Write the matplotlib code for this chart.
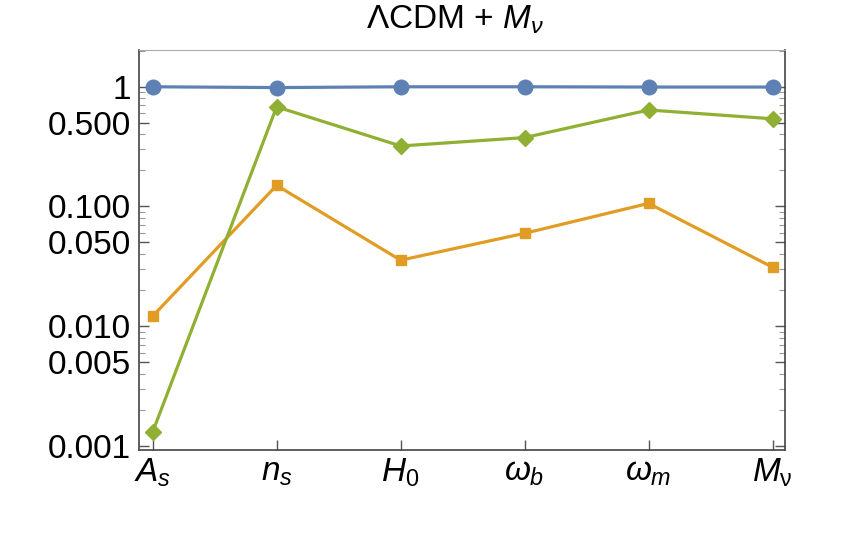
import numpy as np
import matplotlib
matplotlib.use("Agg")
import matplotlib.pyplot as plt
from matplotlib.ticker import FixedLocator, FixedFormatter, LogLocator, NullFormatter

plt.rcParams['font.family'] = ['Liberation Sans', 'DejaVu Sans']
plt.rcParams['mathtext.fontset'] = 'custom'
plt.rcParams['mathtext.it'] = 'Liberation Sans:italic'
plt.rcParams['mathtext.rm'] = 'Liberation Sans'

params = [r"$A_s$", r"$n_s$", r"$H_0$", r"$\omega_b$", r"$\omega_m$", r"$M_\mathrm{\nu}$"]
blue_vals = [1.0, 0.985, 1.0, 1.0, 0.995, 0.995]
green_vals = [0.0013, 0.68, 0.32, 0.376, 0.64, 0.54]
orange_vals = [0.0121, 0.15, 0.0355, 0.0596, 0.106, 0.031]

ytick_vals = [1, 0.5, 0.1, 0.05, 0.01, 0.005, 0.001]
ytick_labels = ["1", "0.500", "0.100", "0.050", "0.010", "0.005", "0.001"]

BLUE = "#5E81B5"
ORANGE = "#E19C24"
GREEN = "#8FB032"

fig = plt.figure(figsize=(8.43, 5.48), dpi=100)
ax = fig.add_axes([139 / 843, 1 - 450 / 548, (785 - 139) / 843, (450 - 50) / 548])

x = np.arange(len(params))
ax.plot(x, orange_vals, color=ORANGE, lw=2.3, marker="s", ms=7, zorder=3)
ax.plot(x, green_vals, color=GREEN, lw=2.3, marker="D", ms=8, zorder=4)
ax.plot(x, blue_vals, color=BLUE, lw=2.3, marker="o", ms=10.5, zorder=5)

ax.set_yscale("log")
ax.set_ylim(0.00092, 2.03)
ax.set_xlim(-0.11, 5.1)

ax.yaxis.set_major_locator(FixedLocator(ytick_vals))
ax.yaxis.set_major_formatter(FixedFormatter(ytick_labels))
ax.yaxis.set_minor_locator(LogLocator(base=10, subs=np.arange(2, 10)))
ax.yaxis.set_minor_formatter(NullFormatter())

ax.set_xticks(x)
ax.set_xticklabels(params)

ax.tick_params(axis="y", which="major", direction="in", length=7, width=1,
               labelsize=24, right=True, color="#555555", pad=6)
ax.tick_params(axis="y", which="minor", direction="in", length=4, width=0.8,
               right=True, color="#999999")
ax.tick_params(axis="x", direction="in", length=7, width=1, labelsize=24,
               color="#555555", pad=5)

for side in ["left", "bottom", "right"]:
    ax.spines[side].set_color("#444444")
    ax.spines[side].set_linewidth(1.2)
ax.spines["top"].set_color("#aaaaaa")

fig.text(455 / 843, 1 - 20 / 548, r"ΛCDM + $M_\nu$", ha="center", va="center", fontsize=24)

fig.savefig("out.png", dpi=100)
